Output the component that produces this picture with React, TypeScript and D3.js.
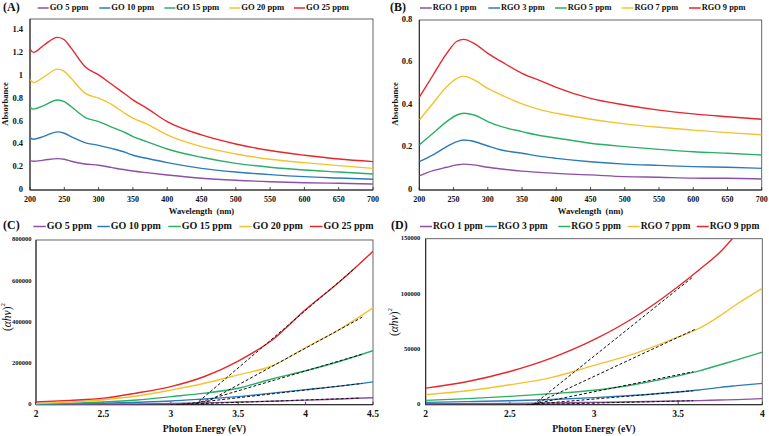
import React from 'react';
import * as d3 from 'd3';

// ---------- DATA ----------
const COLORS = ['#8E4FA6', '#2B7BBA', '#2BAE66', '#F5C22F', '#E8262B'];

const goLabels = ['GO 5 ppm', 'GO 10 ppm', 'GO 15 ppm', 'GO 20 ppm', 'GO 25 ppm'];
const rgoLabels = ['RGO 1 ppm', 'RGO 3 ppm', 'RGO 5 ppm', 'RGO 7 ppm', 'RGO 9 ppm'];

// Panel A: GO absorbance
const wavelengthsA = [200, 205, 220, 240, 250, 260, 280, 300, 320, 340, 350, 370, 400, 450, 500, 550, 600, 650, 700];
const absGO5 = [0.258, 0.252, 0.262, 0.275, 0.27, 0.252, 0.228, 0.217, 0.196, 0.176, 0.167, 0.152, 0.132, 0.103, 0.085, 0.073, 0.064, 0.059, 0.053];
const absGO10 = [0.46, 0.445, 0.47, 0.51, 0.498, 0.469, 0.416, 0.392, 0.363, 0.328, 0.305, 0.278, 0.24, 0.19, 0.158, 0.135, 0.117, 0.105, 0.094];
const absGO15 = [0.726, 0.709, 0.74, 0.79, 0.776, 0.732, 0.638, 0.6, 0.55, 0.5, 0.469, 0.425, 0.36, 0.287, 0.234, 0.2, 0.176, 0.158, 0.14];
const absGO20 = [0.967, 0.943, 0.99, 1.06, 1.04, 0.98, 0.85, 0.805, 0.747, 0.665, 0.63, 0.58, 0.483, 0.38, 0.316, 0.27, 0.24, 0.214, 0.19];
const absGO25 = [1.236, 1.207, 1.27, 1.339, 1.318, 1.245, 1.084, 1.01, 0.923, 0.835, 0.791, 0.718, 0.6, 0.483, 0.404, 0.346, 0.305, 0.272, 0.249];

// Panel B: RGO absorbance
const wavelengthsB = [200, 220, 240, 255, 265, 280, 300, 320, 350, 380, 400, 450, 500, 550, 600, 650, 700];
const absRGO1 = [0.066, 0.091, 0.107, 0.118, 0.122, 0.118, 0.107, 0.099, 0.089, 0.082, 0.078, 0.071, 0.063, 0.06, 0.056, 0.055, 0.052];
const absRGO3 = [0.133, 0.165, 0.204, 0.228, 0.235, 0.228, 0.207, 0.188, 0.173, 0.157, 0.149, 0.133, 0.122, 0.116, 0.11, 0.107, 0.102];
const absRGO5 = [0.212, 0.267, 0.322, 0.353, 0.361, 0.353, 0.322, 0.298, 0.275, 0.254, 0.245, 0.22, 0.204, 0.191, 0.18, 0.173, 0.165];
const absRGO7 = [0.329, 0.408, 0.486, 0.525, 0.536, 0.518, 0.478, 0.447, 0.405, 0.375, 0.361, 0.333, 0.311, 0.295, 0.282, 0.27, 0.26];
const absRGO9 = [0.436, 0.54, 0.643, 0.7, 0.709, 0.69, 0.643, 0.604, 0.549, 0.51, 0.483, 0.431, 0.4, 0.376, 0.358, 0.345, 0.333];

// Panel C: GO Tauc
const energiesC = [2.0, 2.25, 2.5, 2.75, 3.0, 3.25, 3.5, 3.75, 4.0, 4.25, 4.5];
const taucGO5 = [1000, 1500, 2500, 4000, 6000, 9000, 13000, 17000, 22000, 28000, 34000];
const taucGO10 = [2000, 4000, 7000, 12000, 18000, 28000, 39000, 56000, 73000, 90000, 111000];
const taucGO15 = [3000, 7000, 13000, 23000, 39000, 56000, 80000, 125000, 165000, 210000, 262000];
const taucGO20 = [5000, 13000, 24000, 42000, 71000, 104000, 145000, 188000, 277000, 365000, 470000];
const taucGO25 = [13000, 21000, 32000, 57000, 88000, 137000, 212000, 313000, 462000, 596000, 745000];
// fitted tangents: [x-intercept, end energy, end value]
const fitGO5 = [3.0, 4.4, 32000];
const fitGO10 = [3.05, 4.42, 103000];
const fitGO15 = [3.15, 4.42, 245000];
const fitGO20 = [3.23, 4.42, 425000];
const fitGO25 = [3.18, 4.37, 665000];

// Panel D: RGO Tauc
const energiesD = [2.0, 2.25, 2.5, 2.75, 3.0, 3.25, 3.5, 3.625, 3.75, 3.85, 4.0];
const taucRGO1 = [900, 1000, 1200, 1600, 2100, 2600, 3300, 3700, 4200, 4600, 5500];
const taucRGO3 = [2100, 2800, 3600, 4700, 6400, 8600, 11500, 13300, 15700, 17200, 19300];
const taucRGO5 = [3900, 5500, 7500, 10000, 13000, 18500, 26000, 30500, 36100, 40500, 47500];
const taucRGO7 = [9000, 12600, 18000, 24700, 35500, 46600, 61200, 69000, 80500, 91000, 105200];
const taucRGO9 = [15000, 21000, 30000, 42300, 58700, 79900, 106800, 122000, 138000, 155000, null];
const fitRGO1 = [2.6, 3.59, 3600];
const fitRGO3 = [2.6, 3.59, 12650];
const fitRGO5 = [2.62, 3.59, 29800];
const fitRGO7 = [2.64, 3.6, 68100];
const fitRGO9 = [2.64, 3.59, 115700];

const ticksWavelength = [200, 250, 300, 350, 400, 450, 500, 550, 600, 650, 700];
const ticksAbsA = [0, 0.2, 0.4, 0.6, 0.8, 1, 1.2, 1.4];
const ticksAbsB = [0, 0.2, 0.4, 0.6, 0.8];
const ticksEnergyC = [2, 2.5, 3, 3.5, 4, 4.5];
const ticksEnergyD = [2, 2.5, 3, 3.5, 4];
const ticksTaucC = [0, 200000, 400000, 600000, 800000];
const ticksTaucD = [0, 50000, 100000, 150000];

// ---------- RENDERING ----------
const FONT = '"Liberation Serif", "Times New Roman", serif';

type PanelProps = {
  id: string;
  tag: string;
  tagPos: [number, number];
  box: { l: number; r: number; t: number; b: number };
  xDomain: [number, number];
  yDomain: [number, number];
  xTicks: number[];
  yTicks: number[];
  xs: number[];
  series: (number | null)[][];
  labels: string[];
  fits?: number[][];
  legendX: number[];
  legendY: number;
  legendLine: number;
  legendGap: number;
  legendFont: number;
  xTickFont: number;
  yTickFont: number;
  yTickGap: number;
  xTitle: string;
  xTitleY: number;
  xTitleFont: number;
  yTitleKind: 'abs' | 'tauc';
  yTitleX: number;
  yTitleY: number;
};

function Panel(p: PanelProps) {
  const x = d3.scaleLinear().domain(p.xDomain).range([p.box.l, p.box.r]);
  const y = d3.scaleLinear().domain(p.yDomain).range([p.box.b, p.box.t]);
  const line = d3
    .line<[number, number | null]>()
    .defined((d) => d[1] !== null)
    .x((d) => x(d[0]))
    .y((d) => y(d[1] as number))
    .curve(d3.curveMonotoneX);
  const fmtY = (v: number) => (Math.abs(v) < 10 ? String(+v.toFixed(1)) : String(v));
  const clipId = 'clip-' + p.id;
  return (
    <g>
      <defs>
        <clipPath id={clipId}>
          <rect x={p.box.l} y={p.box.t} width={p.box.r - p.box.l} height={p.box.b - p.box.t} />
        </clipPath>
      </defs>
      <rect
        x={p.box.l}
        y={p.box.t}
        width={p.box.r - p.box.l}
        height={p.box.b - p.box.t}
        fill="white"
        stroke="#555"
        strokeWidth={0.9}
      />
      <line x1={p.box.l} x2={p.box.l} y1={p.box.t} y2={p.box.b} stroke="#222" strokeWidth={1} />
      <line x1={p.box.l} x2={p.box.r} y1={p.box.b} y2={p.box.b} stroke="#222" strokeWidth={1} />
      {p.xTicks.map((t) => (
        <g key={'xt' + t}>
          <line x1={x(t)} x2={x(t)} y1={p.box.b} y2={p.box.b - 3} stroke="#222" strokeWidth={0.8} />
          <text
            x={x(t)}
            y={p.box.b + 10}
            textAnchor="middle"
            dominantBaseline="middle"
            fontFamily={FONT}
            fontWeight="bold"
            fontSize={p.xTickFont}
            fill="#111"
          >
            {String(t)}
          </text>
        </g>
      ))}
      {p.yTicks.map((t) => (
        <text
          key={'yt' + t}
          x={p.box.l - p.yTickGap}
          y={y(t)}
          textAnchor="end"
          dominantBaseline="middle"
          fontFamily={FONT}
          fontWeight="bold"
          fontSize={p.yTickFont}
          fill="#111"
        >
          {fmtY(t)}
        </text>
      ))}
      <g clipPath={`url(#${clipId})`}>
        {p.series.map((vals, i) => (
          <path
            key={'s' + i}
            d={line(p.xs.map((xv, j) => [xv, vals[j]] as [number, number | null])) || ''}
            fill="none"
            stroke={COLORS[i]}
            strokeWidth={1.4}
          />
        ))}
        {p.fits &&
          p.fits.map((f, i) => (
            <line
              key={'f' + i}
              x1={x(f[0])}
              y1={y(0)}
              x2={x(f[1])}
              y2={y(f[2])}
              stroke="#111"
              strokeWidth={1}
              strokeDasharray="3,2"
            />
          ))}
      </g>
      <text
        x={p.tagPos[0]}
        y={p.tagPos[1]}
        dominantBaseline="middle"
        fontFamily={FONT}
        fontWeight="bold"
        fontSize={12}
        fill="#111"
      >
        {p.tag}
      </text>
      {p.labels.map((lab, i) => (
        <g key={'lg' + i}>
          <line
            x1={p.legendX[i]}
            x2={p.legendX[i] + p.legendLine}
            y1={p.legendY}
            y2={p.legendY}
            stroke={COLORS[i]}
            strokeWidth={1.5}
          />
          <text
            x={p.legendX[i] + p.legendLine + p.legendGap}
            y={p.legendY}
            dominantBaseline="middle"
            fontFamily={FONT}
            fontWeight="bold"
            fontSize={p.legendFont}
            fill="#111"
          >
            {lab}
          </text>
        </g>
      ))}
      <text
        x={(p.box.l + p.box.r) / 2}
        y={p.xTitleY}
        textAnchor="middle"
        dominantBaseline="middle"
        fontFamily={FONT}
        fontWeight="bold"
        fontSize={p.xTitleFont}
        fill="#111"
        style={{ whiteSpace: 'pre' }}
      >
        {p.xTitle}
      </text>
      {p.yTitleKind === 'abs' ? (
        <text
          transform={`translate(${p.yTitleX},${p.yTitleY}) rotate(-90)`}
          textAnchor="middle"
          dominantBaseline="middle"
          fontFamily={FONT}
          fontWeight="bold"
          fontSize={8.5}
          fill="#111"
        >
          Absorbance
        </text>
      ) : (
        <text
          transform={`translate(${p.yTitleX},${p.yTitleY}) rotate(-90)`}
          textAnchor="middle"
          dominantBaseline="middle"
          fontFamily={FONT}
          fontSize={11.5}
          fill="#111"
        >
          <tspan>(</tspan>
          <tspan fontStyle="italic">αhν</tspan>
          <tspan>)</tspan>
          <tspan fontSize={7} dy={-5}>
            2
          </tspan>
        </text>
      )}
    </g>
  );
}

export default function App() {
  return (
    <svg
      width={769}
      height={436}
      style={{ position: 'absolute', left: 0, top: 0, background: 'white' }}
    >
      <rect x={0} y={0} width={769} height={436} fill="white" />
      <Panel
        id="A"
        tag="(A)"
        tagPos={[3, 8]}
        box={{ l: 30, r: 373, t: 19, b: 190 }}
        xDomain={[200, 700]}
        yDomain={[0, 1.5]}
        xTicks={ticksWavelength}
        yTicks={ticksAbsA}
        xs={wavelengthsA}
        series={[absGO5, absGO10, absGO15, absGO20, absGO25]}
        labels={goLabels}
        legendX={[37.7, 99.3, 164.3, 229.3, 294]}
        legendY={8}
        legendLine={11}
        legendGap={1}
        legendFont={8.6}
        xTickFont={8}
        yTickFont={8.5}
        yTickGap={7}
        xTitle="Wavelength  (nm)"
        xTitleY={212}
        xTitleFont={8.6}
        yTitleKind="abs"
        yTitleX={6}
        yTitleY={104}
      />
      <Panel
        id="B"
        tag="(B)"
        tagPos={[390, 8]}
        box={{ l: 419.3, r: 761.7, t: 20, b: 190 }}
        xDomain={[200, 700]}
        yDomain={[0, 0.8]}
        xTicks={ticksWavelength}
        yTicks={ticksAbsB}
        xs={wavelengthsB}
        series={[absRGO1, absRGO3, absRGO5, absRGO7, absRGO9]}
        labels={rgoLabels}
        legendX={[420, 488.3, 555, 621.7, 689]}
        legendY={8}
        legendLine={11.7}
        legendGap={1}
        legendFont={8.4}
        xTickFont={8}
        yTickFont={8.5}
        yTickGap={7}
        xTitle="Wavelength  (nm)"
        xTitleY={212}
        xTitleFont={8.6}
        yTitleKind="abs"
        yTitleX={396}
        yTitleY={104}
      />
      <Panel
        id="C"
        tag="(C)"
        tagPos={[3, 226.5]}
        box={{ l: 36, r: 373, t: 240, b: 404.7 }}
        xDomain={[2, 4.5]}
        yDomain={[0, 800000]}
        xTicks={ticksEnergyC}
        yTicks={ticksTaucC}
        xs={energiesC}
        series={[taucGO5, taucGO10, taucGO15, taucGO20, taucGO25]}
        labels={goLabels}
        fits={[fitGO5, fitGO10, fitGO15, fitGO20, fitGO25]}
        legendX={[33.3, 97.3, 168.3, 239.3, 310]}
        legendY={226.5}
        legendLine={12.5}
        legendGap={1}
        legendFont={10}
        xTickFont={9.5}
        yTickFont={6.5}
        yTickGap={4.5}
        xTitle="Photon Energy (eV)"
        xTitleY={430}
        xTitleFont={9.8}
        yTitleKind="tauc"
        yTitleX={8}
        yTitleY={317}
      />
      <Panel
        id="D"
        tag="(D)"
        tagPos={[391, 226.5]}
        box={{ l: 425.7, r: 762.3, t: 238.7, b: 404.7 }}
        xDomain={[2, 4]}
        yDomain={[0, 150000]}
        xTicks={ticksEnergyD}
        yTicks={ticksTaucD}
        xs={energiesD}
        series={[taucRGO1, taucRGO3, taucRGO5, taucRGO7, taucRGO9]}
        labels={rgoLabels}
        fits={[fitRGO1, fitRGO3, fitRGO5, fitRGO7, fitRGO9]}
        legendX={[420, 485, 558.3, 627.7, 696.7]}
        legendY={226.5}
        legendLine={12}
        legendGap={1}
        legendFont={9.5}
        xTickFont={9.5}
        yTickFont={6.5}
        yTickGap={5.5}
        xTitle="Photon Energy (eV)"
        xTitleY={430}
        xTitleFont={9.8}
        yTitleKind="tauc"
        yTitleX={395}
        yTitleY={322}
      />
    </svg>
  );
}
